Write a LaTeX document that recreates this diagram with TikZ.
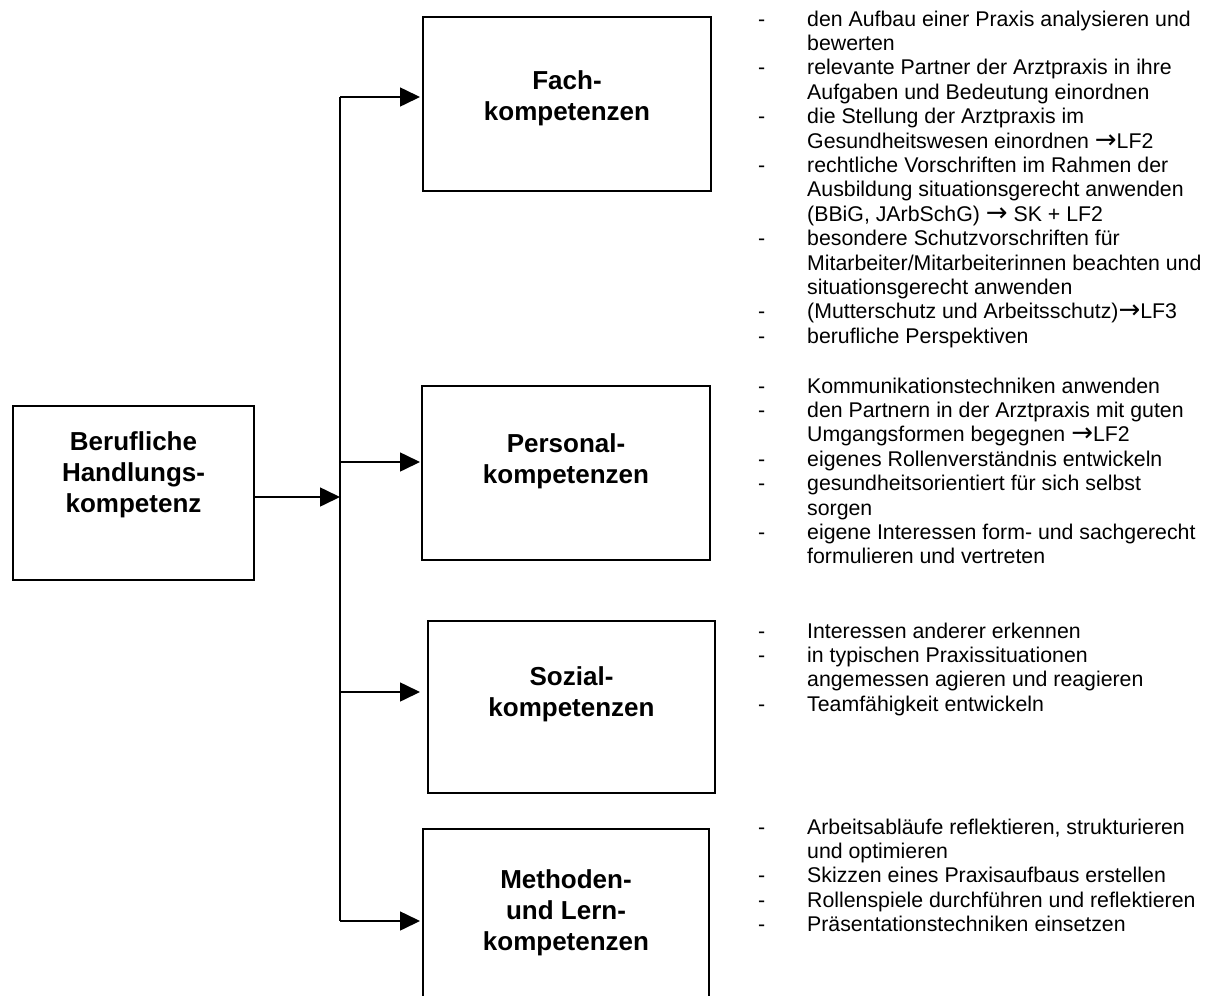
\documentclass[tikz,border=0pt]{standalone}
\usepackage{fontspec}
\setmainfont{Liberation Sans}
\newfontfamily\symfont{DejaVu Sans}
\usetikzlibrary{arrows.meta}

% arrow sign used inside the item lists
\newcommand\ra{{\symfont\fontsize{26}{24.4}\selectfont →}}

\tikzset{
  x=1pt, y=-1pt,
  box/.style={draw, line width=1.8pt, inner sep=0pt, outer sep=0pt},
  conn/.style={line width=1.6pt},
  arr/.style={conn, -{Triangle[length=20pt,width=19pt]}},
  title/.style={anchor=base, inner sep=0pt,
    font=\fontsize{26}{31}\selectfont\bfseries},
  listtext/.style={anchor=base west, inner sep=0pt,
    font=\fontsize{21.3}{24.4}\selectfont},
}

% list line with a leading dash: name, first baseline, line index, text
\newcommand\dashline[4]{%
  \node[listtext] (#1) at (758,{#2+#3*24.4}) {\makebox[49pt][l]{-}#4};}
% continuation line of a list item
\newcommand\contline[4]{%
  \node[listtext] (#1) at (807,{#2+#3*24.4}) {#4};}

\begin{document}
\begin{tikzpicture}
\useasboundingbox (0,0) rectangle (1208,996);
\clip (0,0) rectangle (1208,996);

% boxes
\node[box, minimum width=241pt, minimum height=174pt] (hk)   at (133.5,493) {};
\node[box, minimum width=288pt, minimum height=174pt] (fach) at (567,104) {};
\node[box, minimum width=288pt, minimum height=174pt] (pers) at (566,473) {};
\node[box, minimum width=287pt, minimum height=172pt] (soz)  at (571.5,707) {};
\node[box, minimum width=286pt, minimum height=190pt] (meth) at (566,924) {};

% box titles
\node[title] (hk1) at (133.5,450) {Berufliche};
\node[title] (hk2) at (133.5,481) {Handlungs-};
\node[title] (hk3) at (133.5,512) {kompetenz};
\node[title] (fa1) at (567,89) {Fach-};
\node[title] (fa2) at (567,120) {kompetenzen};
\node[title] (pe1) at (566,452) {Personal-};
\node[title] (pe2) at (566,483) {kompetenzen};
\node[title] (so1) at (571.5,685) {Sozial-};
\node[title] (so2) at (571.5,716) {kompetenzen};
\node[title] (me1) at (566,888) {Methoden-};
\node[title] (me2) at (566,919) {und Lern-};
\node[title] (me3) at (566,950) {kompetenzen};

% connectors
\coordinate (j0) at (340,497);
\coordinate (jF) at (340,97);
\coordinate (jP) at (340,462);
\coordinate (jS) at (340,692);
\coordinate (jM) at (340,921);
\draw[conn] (jF) -- (jM);
\draw[arr] (hk.east |- j0) -- (j0);
\draw[arr, shorten >=3pt] (jF) -- (jF -| fach.west);
\draw[arr, shorten >=2pt] (jP) -- (jP -| pers.west);
\draw[arr, shorten >=8pt] (jS) -- (jS -| soz.west);
\draw[arr, shorten >=3pt] (jM) -- (jM -| meth.west);

% Fachkompetenzen
\dashline{f0}{26}{0}{den Aufbau einer Praxis analysieren und}
\contline{f1}{26}{1}{bewerten}
\dashline{f2}{26}{2}{relevante Partner der Arztpraxis in ihre}
\contline{f3}{26}{3}{Aufgaben und Bedeutung einordnen}
\dashline{f4}{26}{4}{die Stellung der Arztpraxis im}
\contline{f5}{26}{5}{Gesundheitswesen einordnen \ra LF2}
\dashline{f6}{26}{6}{rechtliche Vorschriften im Rahmen der}
\contline{f7}{26}{7}{Ausbildung situationsgerecht anwenden}
\contline{f8}{26}{8}{(BBiG, JArbSchG) \ra{} SK + LF2}
\dashline{f9}{26}{9}{besondere Schutzvorschriften für}
\contline{f10}{26}{10}{Mitarbeiter/Mitarbeiterinnen beachten und}
\contline{f11}{26}{11}{situationsgerecht anwenden}
\dashline{f12}{26}{12}{(Mutterschutz und Arbeitsschutz)\ra LF3}
\dashline{f13}{26}{13}{berufliche Perspektiven}

% Personalkompetenzen
\dashline{p0}{393}{0}{Kommunikationstechniken anwenden}
\dashline{p1}{393}{1}{den Partnern in der Arztpraxis mit guten}
\contline{p2}{393}{2}{Umgangsformen begegnen \ra LF2}
\dashline{p3}{393}{3}{eigenes Rollenverständnis entwickeln}
\dashline{p4}{393}{4}{gesundheitsorientiert für sich selbst}
\contline{p5}{393}{5}{sorgen}
\dashline{p6}{393}{6}{eigene Interessen form- und sachgerecht}
\contline{p7}{393}{7}{formulieren und vertreten}

% Sozialkompetenzen
\dashline{s0}{638}{0}{Interessen anderer erkennen}
\dashline{s1}{638}{1}{in typischen Praxissituationen}
\contline{s2}{638}{2}{angemessen agieren und reagieren}
\dashline{s3}{638}{3}{Teamfähigkeit entwickeln}

% Methoden- und Lernkompetenzen
\dashline{m0}{834}{0}{Arbeitsabläufe reflektieren, strukturieren}
\contline{m1}{834}{1}{und optimieren}
\dashline{m2}{834}{2}{Skizzen eines Praxisaufbaus erstellen}
\dashline{m3}{834}{3}{Rollenspiele durchführen und reflektieren}
\dashline{m4}{834}{4}{Präsentationstechniken einsetzen}
\end{tikzpicture}
\end{document}
